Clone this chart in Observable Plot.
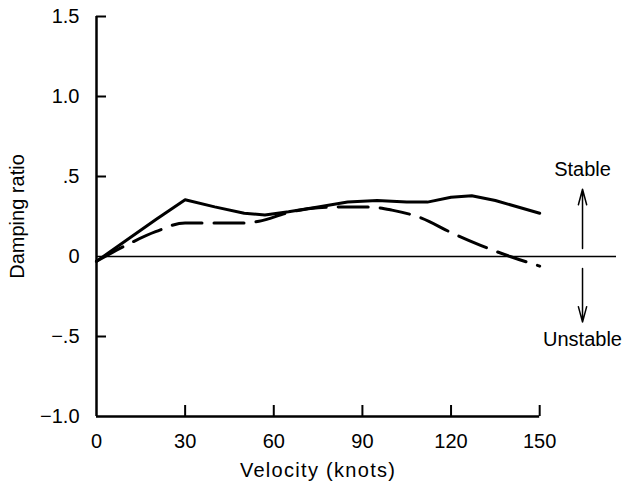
<!DOCTYPE html>
<html>
<head>
<meta charset="utf-8">
<script src="https://cdn.jsdelivr.net/npm/d3@7"></script>
<script src="https://cdn.jsdelivr.net/npm/@observablehq/plot@0.6"></script>
<style>
  html, body { margin: 0; padding: 0; background: #fff; }
</style>
</head>
<body>
<div id="chart"></div>
<script>
// ---- Data ----
const solidVelocity = [0, 10, 20, 30, 40, 50, 57, 65, 75, 85, 95, 105, 112, 120, 127, 135, 150];
const solidRatio    = [-0.03, 0.10, 0.23, 0.355, 0.31, 0.27, 0.26, 0.28, 0.31, 0.34, 0.35, 0.34, 0.34, 0.37, 0.38, 0.35, 0.27];

const dashedVelocity = [0, 10, 20, 30, 40, 50, 55, 65, 75, 85, 92, 100, 110, 120, 130, 140, 150];
const dashedRatio    = [-0.03, 0.07, 0.155, 0.21, 0.21, 0.21, 0.22, 0.275, 0.305, 0.31, 0.31, 0.29, 0.24, 0.15, 0.07, 0.0, -0.06];

const xTicks = [0, 30, 60, 90, 120, 150];
const yTicks = [-1.0, -0.5, 0, 0.5, 1.0, 1.5];
const yTickLabels = ["\u22121.0", "\u2212.5", "0", ".5", "1.0", "1.5"];
const yTickMarks = [1.5, 1.0, 0.5, -0.5];
const xTickMarks = [30, 60, 90, 120, 150];

const xAxisExtent = [0, 150];
const yAxisExtent = [-1, 1.5];
const zeroLineExtent = [0, 176];

const annotationLabels = ["Stable", "Unstable"];
const annotationX = [164.5, 164.5];
const annotationY = [0.545, -0.52];
const arrowFrom = [0.05, -0.075];
const arrowTo = [0.42, -0.41];

const xTitle = "Velocity (knots)";
const yTitle = "Damping ratio";

// ---- Tables built from the arrays ----
const solid = solidVelocity.map((v, i) => ({v, r: solidRatio[i]}));
const dashed = dashedVelocity.map((v, i) => ({v, r: dashedRatio[i]}));
const annotations = annotationLabels.map((t, i) => ({t, x: annotationX[i], y: annotationY[i]}));
const arrows = arrowFrom.map((f, i) => ({x: annotationX[i], y1: f, y2: arrowTo[i]}));
const yLabelMap = new Map(yTicks.map((t, i) => [t, yTickLabels[i]]));

const W = 633, H = 485, ML = 96, MR = 17, MT = 16, MB = 69;
const frameW = W - ML - MR, frameH = H - MT - MB;

const chart = Plot.plot({
  width: W,
  height: H,
  marginLeft: ML,
  marginRight: MR,
  marginTop: MT,
  marginBottom: MB,
  style: {fontFamily: "'Liberation Sans', Arial, Helvetica, sans-serif", fontSize: "20px", background: "white", color: "black"},
  x: {domain: zeroLineExtent},
  y: {domain: yAxisExtent},
  marks: [
    Plot.axisX(xTicks, {tickSize: 0, tickPadding: 17, label: null, tickFormat: d => String(d), fontSize: 20}),
    Plot.axisY(yTicks, {tickSize: 0, tickPadding: 17, label: null, tickFormat: d => yLabelMap.get(d), fontSize: 20}),
    // axes lines
    Plot.ruleX([xAxisExtent[0]], {y1: yAxisExtent[0], y2: yAxisExtent[1], stroke: "black", strokeWidth: 2.5}),
    Plot.ruleY([yAxisExtent[0]], {x1: xAxisExtent[0], x2: xAxisExtent[1], stroke: "black", strokeWidth: 2.5}),
    Plot.ruleY([0], {x1: zeroLineExtent[0], x2: zeroLineExtent[1], stroke: "black", strokeWidth: 1.5}),
    // inward ticks
    Plot.tickY(yTickMarks, {y: d => d, insetRight: frameW - 10, stroke: "black", strokeWidth: 2}),
    Plot.tickX(xTickMarks, {x: d => d, insetTop: frameH - 11, stroke: "black", strokeWidth: 2}),
    // curves
    Plot.line(solid, {x: "v", y: "r", stroke: "black", strokeWidth: 3, curve: "linear", strokeLinejoin: "round"}),
    Plot.line(dashed, {x: "v", y: "r", stroke: "black", strokeWidth: 3, curve: "monotone-x", strokeDasharray: "30,12"}),
    // arrows + annotations
    Plot.arrow(arrows, {x1: "x", x2: "x", y1: "y1", y2: "y2", stroke: "black", strokeWidth: 1.5, headLength: 16, headAngle: 30}),
    Plot.text(annotations, {x: "x", y: "y", text: "t", fontSize: 20, fill: "black"}),
    // axis titles
    Plot.text([xTitle], {x: (xAxisExtent[0] + xAxisExtent[1]) / 2, y: yAxisExtent[0], text: d => d, dy: 54, fontSize: 20, fill: "black"}),
    Plot.text([yTitle], {x: xAxisExtent[0], y: (yAxisExtent[0] + yAxisExtent[1]) / 2, text: d => d, dx: -79, rotate: -90, fontSize: 20, fill: "black"})
  ]
});

// slightly wider letter spacing for the x-axis title, as in the reference
d3.select(chart).selectAll("text").filter(function() { return this.textContent === xTitle; })
  .attr("letter-spacing", "1.3px");

document.getElementById("chart").appendChild(chart);
</script>
</body>
</html>
